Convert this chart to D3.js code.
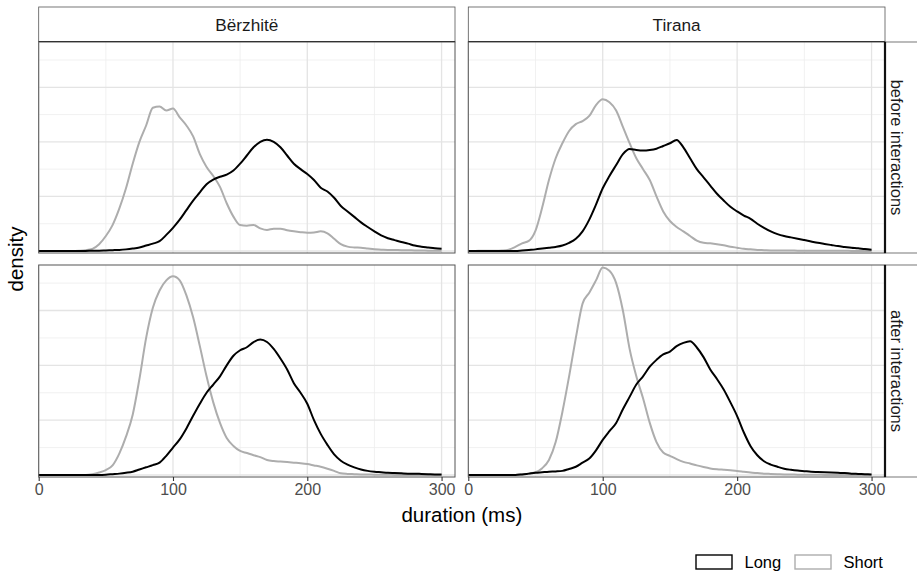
<!DOCTYPE html>
<html lang="en">
<head>
  <meta charset="utf-8">
  <title>Duration density</title>
  <script src="https://cdn.jsdelivr.net/npm/d3@7"></script>
  <style>
    body { margin: 0; background: #fff; }
    text { font-family: "Liberation Sans", Arial, sans-serif; }
  </style>
</head>
<body>
<svg id="chart" width="917" height="573"></svg>
<script>
// sampling grid (ms)
const duration = [0,5,10,15,20,25,30,35,40,45,50,55,60,65,70,75,80,85,90,95,100,105,110,115,120,125,130,135,140,145,150,
  155,160,165,170,175,180,185,190,195,200,205,210,215,220,225,230,235,240,245,250,255,260,265,270,275,280,285,290,295,300];

// density, in units of 0.0025
const berzhiteBeforeShort = [0,0,0,0,0,0,0.01,0.03,0.08,0.25,0.55,0.95,1.55,2.3,3.2,4.0,4.6,5.25,5.3,5.15,5.22,4.9,4.6,4.2,3.55,3.08,2.75,2.35,1.75,1.26,0.95,
  0.93,0.95,0.83,0.77,0.82,0.82,0.76,0.72,0.69,0.67,0.68,0.72,0.65,0.45,0.25,0.16,0.13,0.12,0.09,0.06,0.05,0.04,0.04,0.03,0.03,0.02,0.02,0.01,0.01,0.01];
const berzhiteBeforeLong = [0,0,0,0,0,0,0,0,0.01,0.01,0.02,0.03,0.04,0.06,0.09,0.13,0.2,0.27,0.36,0.59,0.85,1.15,1.5,1.85,2.15,2.45,2.62,2.72,2.8,2.95,3.2,
  3.5,3.8,4.0,4.08,4.0,3.8,3.5,3.2,3.0,2.82,2.6,2.32,2.18,1.95,1.65,1.45,1.25,1.05,0.88,0.72,0.57,0.47,0.4,0.33,0.27,0.2,0.16,0.13,0.1,0.08];
const tiranaBeforeShort = [0,0,0.01,0.01,0.01,0.02,0.05,0.15,0.28,0.37,0.75,1.6,2.6,3.4,3.95,4.4,4.65,4.76,4.95,5.35,5.56,5.45,5.15,4.55,3.95,3.4,3.0,2.6,2.0,1.45,1.1,
  0.88,0.72,0.55,0.38,0.3,0.28,0.25,0.21,0.16,0.12,0.08,0.06,0.04,0.03,0.02,0.02,0.02,0.02,0.01,0.01,0.01,0.01,0.01,0.01,0.01,0.01,0,0,0,0];
const tiranaBeforeLong = [0,0,0,0,0,0,0,0,0.02,0.04,0.06,0.09,0.12,0.15,0.2,0.3,0.45,0.72,1.15,1.7,2.3,2.75,3.15,3.55,3.74,3.7,3.68,3.7,3.75,3.85,3.95,
  4.07,3.8,3.4,3.0,2.7,2.4,2.1,1.85,1.62,1.45,1.3,1.18,1.0,0.85,0.72,0.62,0.55,0.5,0.45,0.4,0.35,0.3,0.26,0.22,0.18,0.15,0.12,0.1,0.07,0.05];
const berzhiteAfterShort = [0,0,0,0,0,0,0,0,0.03,0.09,0.18,0.35,0.78,1.4,2.2,3.5,5.0,6.1,6.73,7.1,7.25,7.1,6.55,5.75,4.7,3.6,2.65,1.9,1.35,1.06,0.88,
  0.8,0.72,0.65,0.55,0.51,0.49,0.47,0.45,0.43,0.4,0.35,0.3,0.23,0.15,0.06,0.04,0.03,0.02,0.02,0.01,0.01,0.01,0,0,0,0,0,0,0,0];
const berzhiteAfterLong = [0,0,0,0,0,0,0,0,0,0,0.01,0.03,0.05,0.08,0.12,0.2,0.28,0.36,0.45,0.7,1.0,1.3,1.7,2.16,2.6,3.0,3.3,3.6,4.0,4.35,4.55,
  4.66,4.85,4.94,4.85,4.6,4.25,3.85,3.35,3.0,2.6,2.0,1.5,1.1,0.75,0.52,0.38,0.28,0.2,0.15,0.12,0.1,0.08,0.07,0.06,0.05,0.05,0.04,0.03,0.02,0.02];
const tiranaAfterShort = [0,0,0,0,0,0,0,0,0.02,0.05,0.1,0.25,0.55,1.2,2.3,3.6,5.0,6.25,6.65,7.1,7.57,7.45,7.0,6.0,4.6,3.6,2.8,1.9,1.2,0.82,0.7,
  0.58,0.48,0.42,0.35,0.29,0.24,0.21,0.19,0.17,0.15,0.12,0.09,0.07,0.05,0.04,0.03,0.02,0.02,0.01,0.01,0.01,0.01,0,0,0,0,0,0,0,0];
const tiranaAfterLong = [0,0,0,0,0,0,0,0,0.02,0.05,0.08,0.1,0.12,0.13,0.15,0.22,0.3,0.45,0.6,0.9,1.28,1.6,1.9,2.4,2.85,3.3,3.6,3.95,4.2,4.4,4.5,
  4.7,4.82,4.88,4.65,4.3,3.85,3.5,3.12,2.65,2.15,1.55,1.05,0.72,0.5,0.38,0.3,0.23,0.19,0.16,0.14,0.12,0.11,0.1,0.09,0.08,0.07,0.05,0.04,0.03,0.02];

const sites = ["Bërzhitë", "Tirana"];
const periods = ["before interactions", "after interactions"];
const lengths = ["Long", "Short"];
const xMajor = [0, 100, 200, 300];
const xMinor = [50, 150, 250];
const yMajor = [0, 2, 4, 6];
const yMinor = [1, 3, 5, 7];

const series = {
  "Bërzhitë|before interactions": { Long: berzhiteBeforeLong, Short: berzhiteBeforeShort },
  "Tirana|before interactions": { Long: tiranaBeforeLong, Short: tiranaBeforeShort },
  "Bërzhitë|after interactions": { Long: berzhiteAfterLong, Short: berzhiteAfterShort },
  "Tirana|after interactions": { Long: tiranaAfterLong, Short: tiranaAfterShort }
};

const colour = d3.scaleOrdinal().domain(lengths).range(["#000000", "#adadad"]);

const svg = d3.select("#chart");

const colX = [[38.7, 455], [468.3, 885]];
const rowY = [[42, 253], [265, 477]];

sites.forEach((site, ci) => {
  const x = d3.scaleLinear().domain([0, 310]).range(colX[ci]);

  // top strip
  const sx0 = colX[ci][0], sx1 = colX[ci][1];
  svg.append("rect")
    .attr("x", sx0).attr("y", 7).attr("width", sx1 - sx0).attr("height", 35)
    .attr("fill", "#fff").attr("stroke", "#555").attr("stroke-width", 0.8);
  svg.append("line")
    .attr("x1", sx0).attr("x2", sx1).attr("y1", 42).attr("y2", 42)
    .attr("stroke", "#111").attr("stroke-width", 2.2);
  svg.append("text")
    .attr("x", (sx0 + sx1) / 2).attr("y", 31)
    .attr("text-anchor", "middle").attr("font-size", 17.2).attr("fill", "#1a1a1a")
    .text(site);

  periods.forEach((period, ri) => {
    const y = d3.scaleLinear().domain([-0.073, 7.66]).range([rowY[ri][1], rowY[ri][0]]);
    const g = svg.append("g");
    const [px0, px1] = x.range();
    const [py1, py0] = y.range();

    g.append("rect")
      .attr("x", px0).attr("y", py0).attr("width", px1 - px0).attr("height", py1 - py0)
      .attr("fill", "#fff");

    // grid
    g.selectAll(".ymin").data(yMinor).join("line")
      .attr("x1", px0).attr("x2", px1).attr("y1", d => y(d)).attr("y2", d => y(d))
      .attr("stroke", "#eeeeee").attr("stroke-width", 0.8);
    g.selectAll(".xmin").data(xMinor).join("line")
      .attr("y1", py0).attr("y2", py1).attr("x1", d => x(d)).attr("x2", d => x(d))
      .attr("stroke", "#eeeeee").attr("stroke-width", 0.8);
    g.selectAll(".ymaj").data(yMajor).join("line")
      .attr("x1", px0).attr("x2", px1).attr("y1", d => y(d)).attr("y2", d => y(d))
      .attr("stroke", "#e4e4e4").attr("stroke-width", 1.3);
    g.selectAll(".xmaj").data(xMajor).join("line")
      .attr("y1", py0).attr("y2", py1).attr("x1", d => x(d)).attr("x2", d => x(d))
      .attr("stroke", "#e4e4e4").attr("stroke-width", 1.3);

    // density curves
    const line = d3.line()
      .x((d, i) => x(duration[i]))
      .y(d => y(d))
      .curve(d3.curveMonotoneX);
    const s = series[site + "|" + period];
    ["Short", "Long"].forEach(k => {
      g.append("path")
        .attr("d", line(s[k]))
        .attr("fill", "none")
        .attr("stroke", colour(k))
        .attr("stroke-width", 2)
        .attr("stroke-linejoin", "round");
    });

    // panel border
    g.append("rect")
      .attr("x", px0).attr("y", py0).attr("width", px1 - px0).attr("height", py1 - py0)
      .attr("fill", "none").attr("stroke", "#555").attr("stroke-width", 1);

    // right strip
    if (ci === 1) {
      svg.append("rect")
        .attr("x", 885).attr("y", py0).attr("width", 40).attr("height", py1 - py0)
        .attr("fill", "#fff").attr("stroke", "#555").attr("stroke-width", 0.8);
      svg.append("line")
        .attr("x1", 885).attr("x2", 885).attr("y1", py0).attr("y2", py1)
        .attr("stroke", "#111").attr("stroke-width", 2.2);
      svg.append("text")
        .attr("transform", `translate(897,${(py0 + py1) / 2}) rotate(90)`)
        .attr("dy", "0.35em")
        .attr("text-anchor", "middle").attr("font-size", 16.5).attr("fill", "#1a1a1a")
        .text(period);
    }

    // x axis on bottom row
    if (ri === 1) {
      const axis = svg.append("g")
        .attr("transform", `translate(0,${py1})`)
        .call(d3.axisBottom(x).tickValues(xMajor).tickSize(4).tickPadding(3));
      axis.select(".domain").remove();
      axis.selectAll(".tick line").attr("stroke", "#333").attr("stroke-width", 1.1);
      axis.selectAll(".tick text")
        .attr("font-family", "'Liberation Sans', Arial, sans-serif")
        .attr("font-size", 16).attr("fill", "#4d4d4d");
    }
  });
});

// axis titles
svg.append("text")
  .attr("x", (38.7 + 885) / 2).attr("y", 522)
  .attr("text-anchor", "middle").attr("font-size", 20.5).attr("fill", "#000")
  .text("duration (ms)");
svg.append("text")
  .attr("transform", "translate(16,259) rotate(-90)")
  .attr("dy", "0.35em")
  .attr("text-anchor", "middle").attr("font-size", 20.5).attr("fill", "#000")
  .text("density");

// legend
const legend = svg.append("g");
const keyX = [696, 795];
lengths.forEach((k, i) => {
  legend.append("rect")
    .attr("x", keyX[i]).attr("y", 555).attr("width", 36).attr("height", 14)
    .attr("fill", "#fff").attr("stroke", colour(k)).attr("stroke-width", 1.4);
  legend.append("text")
    .attr("x", keyX[i] + 48.5).attr("y", 568)
    .attr("font-size", 16.5).attr("fill", "#000")
    .text(k);
});
</script>
</body>
</html>
